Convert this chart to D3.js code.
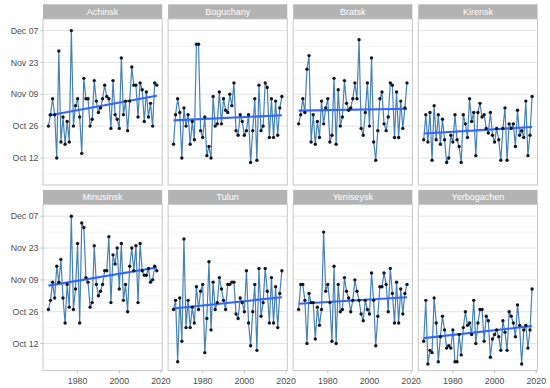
<!DOCTYPE html>
<html><head><meta charset="utf-8">
<script src="https://cdn.jsdelivr.net/npm/d3@7"></script>
<style>body{margin:0;background:#fff}svg{display:block}</style>
</head><body>
<svg id="chart" width="550" height="388"></svg>
<script>
// Values: day index where Oct d = d, Nov d = 31+d, Dec d = 61+d
const years = d3.range(1966, 2019);
const stations = ["Achinsk","Boguchany","Bratsk","Kirensk","Minusinsk","Tulun","Yeniseysk","Yerbogachen"];
const achinsk = [26,31,38,31,12,59,19,30,18,28,19,68,26,35,38,30,14,47,38,38,26,29,46,37,32,34,38,44,39,38,25,46,31,29,25,56,31,37,24,37,52,44,44,30,45,42,28,41,30,36,26,45,44];
const boguchany = [18,31,38,32,12,34,26,31,18,28,20,62,62,24,21,30,13,17,12,39,26,27,41,27,38,33,32,40,35,45,24,22,31,28,22,24,31,10,24,38,11,44,24,26,45,43,21,38,21,37,22,34,39];
const bratsk = [27,31,38,32,51,57,19,31,18,28,21,37,27,34,38,19,22,47,18,42,26,30,46,36,33,34,38,45,38,64,25,22,32,45,26,56,19,11,24,38,41,27,24,30,45,44,21,41,21,37,25,34,45];
const kirensk = [20,31,19,32,11,35,20,31,18,29,20,10,12,22,19,31,20,17,10,31,27,21,38,28,32,13,32,36,30,31,25,23,32,22,19,25,20,11,25,34,11,27,25,27,17,33,22,24,21,37,13,22,39];
const minusinsk = [27,31,39,32,46,39,49,32,21,38,28,68,27,36,56,21,65,63,41,39,28,30,55,38,33,35,38,44,44,59,30,51,47,54,36,56,31,38,26,46,54,44,55,30,56,44,42,42,45,39,40,46,44];
const tulun = [27,31,4,32,13,58,19,31,19,28,21,37,27,35,38,8,23,48,18,39,27,30,41,36,31,27,38,38,39,39,25,23,32,30,26,44,21,11,26,38,9,45,24,30,45,35,21,41,21,37,19,34,44];
const yeniseysk = [27,38,38,31,12,34,30,30,14,28,20,27,61,35,38,30,13,46,12,38,26,27,41,35,32,26,31,40,35,31,25,22,31,27,25,43,31,11,24,37,37,43,38,26,45,34,21,39,21,36,25,34,38];
const yerbogachen = [13,31,3,9,8,32,21,4,15,24,18,10,11,10,18,4,4,16,7,19,26,20,21,16,31,12,21,27,27,13,24,22,6,14,16,18,15,9,22,17,9,26,24,21,15,29,20,3,18,20,10,18,36];
const seriesValues = [achinsk,boguchany,bratsk,kirensk,minusinsk,tulun,yeniseysk,yerbogachen];
const yTickValues = [12,26,40,54,68];
const yTickLabels = ["Oct 12","Oct 26","Nov 09","Nov 23","Dec 07"];
const yMinorValues = [5,19,33,47,61];
const xTickValues = [1980,2000,2020];

const svg = d3.select("#chart");
const font = "'Liberation Sans', Arial, Helvetica, sans-serif";
const colX = [43, 168.1, 293.2, 418.3];
const pw = 119.2;
const stripTops = [4.3, 189.9];
const stripH = 14.7;
const ph = 166;

const x = d3.scaleLinear().domain([1963.4, 2020.6]).range([0, pw]);
const y = d3.scaleLinear().domain([0.1, 73.1]).range([ph, 0]);

function linreg(xs, ys){
  const mx = d3.mean(xs), my = d3.mean(ys);
  let sxy = 0, sxx = 0;
  xs.forEach((v,i)=>{ sxy += (v-mx)*(ys[i]-my); sxx += (v-mx)*(v-mx); });
  const b = sxy/sxx; return {a: my - b*mx, b};
}

stations.forEach((name, i) => {
  const col = i % 4, row = Math.floor(i / 4);
  const gx = colX[col];
  const st = stripTops[row];
  const top = st + stripH;
  svg.append("rect").attr("x", gx).attr("y", st).attr("width", pw).attr("height", stripH)
    .attr("fill", "#b3b3b3");
  svg.append("text").attr("x", gx + pw/2).attr("y", st + stripH/2 + 3.2)
    .attr("text-anchor","middle").attr("fill","#fff").attr("font-family",font).attr("font-size","9px")
    .text(name);
  const g = svg.append("g").attr("transform", `translate(${gx},${top})`);
  g.append("rect").attr("width", pw).attr("height", ph).attr("fill","#fff");
  g.selectAll(".minor").data(yMinorValues).join("line")
    .attr("x1",0).attr("x2",pw).attr("y1",d=>y(d)).attr("y2",d=>y(d))
    .attr("stroke","#ebebeb").attr("stroke-width",0.5);
  g.selectAll(".major").data(yTickValues).join("line")
    .attr("x1",0).attr("x2",pw).attr("y1",d=>y(d)).attr("y2",d=>y(d))
    .attr("stroke","#e0e0e0").attr("stroke-width",0.9);
  g.append("rect").attr("width", pw).attr("height", ph).attr("fill","none")
    .attr("stroke","#c8c8c8").attr("stroke-width",1);

  const vals = seriesValues[i];
  const data = years.map((yr,k)=>({yr, v: vals[k]}));
  g.append("path").datum(data)
    .attr("d", d3.line().x(d=>x(d.yr)).y(d=>y(d.v)))
    .attr("fill","none").attr("stroke","#4682b4").attr("stroke-width",1.2);
  const r = linreg(years, vals);
  const x0 = years[0], x1 = years[years.length-1];
  g.append("line").attr("x1", x(x0)).attr("x2", x(x1))
    .attr("y1", y(r.a + r.b*x0)).attr("y2", y(r.a + r.b*x1))
    .attr("stroke","#3366ff").attr("stroke-width",2.1);
  g.selectAll("circle").data(data).join("circle")
    .attr("cx", d=>x(d.yr)).attr("cy", d=>y(d.v)).attr("r",1.7)
    .attr("fill","#15151f");

  if (col === 0) {
    g.selectAll(".yt").data(yTickValues).join("line")
      .attr("x1",-2.7).attr("x2",0).attr("y1",d=>y(d)).attr("y2",d=>y(d))
      .attr("stroke","#b3b3b3").attr("stroke-width",0.8);
    g.selectAll(".yl").data(yTickValues).join("text")
      .attr("x",-4.5).attr("y",d=>y(d)+3.1).attr("text-anchor","end")
      .attr("font-family",font).attr("font-size","8.8px").attr("fill","#4d4d4d")
      .text((d,k)=>yTickLabels[k]);
  }
  if (row === 1) {
    g.selectAll(".xt").data(xTickValues).join("line")
      .attr("x1",d=>x(d)).attr("x2",d=>x(d)).attr("y1",ph).attr("y2",ph+2.7)
      .attr("stroke","#b3b3b3").attr("stroke-width",0.8);
    g.selectAll(".xl").data(xTickValues).join("text")
      .attr("x",d=>x(d)).attr("y",ph+13).attr("text-anchor","middle")
      .attr("font-family",font).attr("font-size","8.8px").attr("fill","#4d4d4d")
      .text(d=>d);
  }
});
</script>
</body></html>
